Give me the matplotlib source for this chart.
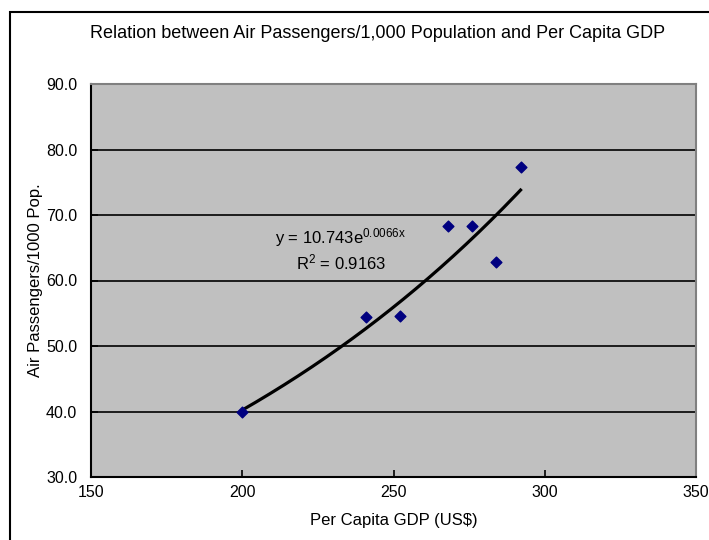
import numpy as np
import matplotlib.pyplot as plt
from matplotlib.patches import Rectangle

# data
gdp = [200, 241, 252, 268, 276, 284, 292]
passengers = [40.0, 54.4, 54.6, 68.3, 68.3, 62.8, 77.3]

# exponential trend line as printed on the chart
a_coef = 10.743
b_coef = 0.0066
r2 = 0.9163

x_ticks = [150, 200, 250, 300, 350]
y_ticks = [30, 40, 50, 60, 70, 80, 90]

plt.rcParams['font.family'] = ['Liberation Sans', 'DejaVu Sans']
plt.rcParams['mathtext.default'] = 'regular'

fig = plt.figure(figsize=(7.09, 5.40), dpi=100)
fig.patches.append(Rectangle((10/709, -0.1), 1.2, 1 - 12/540 + 0.1,
                             transform=fig.transFigure, fill=False,
                             edgecolor='black', linewidth=1.5))

ax = fig.add_axes([91/709, 1 - 477/540, (696 - 91)/709, (477 - 84)/540])
ax.set_facecolor('#C0C0C0')
ax.set_xlim(150, 350)
ax.set_ylim(30, 90)
ax.set_xticks(x_ticks)
ax.set_yticks(y_ticks)
ax.set_yticklabels([f'{v:.1f}' for v in y_ticks])
ax.yaxis.grid(True, color='black', linewidth=1.2)
ax.set_axisbelow(True)
ax.tick_params(direction='in', length=5, width=1.2, labelsize=11.5)
ax.tick_params(axis='y', pad=10)
ax.tick_params(axis='x', pad=6)

for side in ['top', 'right']:
    ax.spines[side].set_color('#808080')
    ax.spines[side].set_linewidth(1.5)
for side in ['left', 'bottom']:
    ax.spines[side].set_color('black')
    ax.spines[side].set_linewidth(1.5)

xs = np.linspace(min(gdp), max(gdp), 200)
ax.plot(xs, a_coef * np.exp(b_coef * xs), color='black', linewidth=2.3, zorder=3)
ax.scatter(gdp, passengers, marker='D', s=30, color='#000080', zorder=4)

ax.text(232.3, 66.5, f'y = {a_coef}e$^{{{b_coef}x}}$', fontsize=12, ha='center', va='center')
ax.text(232.8, 62.8, f'R$^2$ = {r2}', fontsize=12, ha='center', va='center')

ax.set_xlabel('Per Capita GDP (US$)', fontsize=12, labelpad=9)
ax.set_ylabel('Air Passengers/1000 Pop.', fontsize=12, labelpad=2)
fig.text(377.5/709, 1 - 33/540,
         'Relation between Air Passengers/1,000 Population and Per Capita GDP',
         fontsize=13, ha='center', va='center')

fig.savefig('out.png', dpi=100)
